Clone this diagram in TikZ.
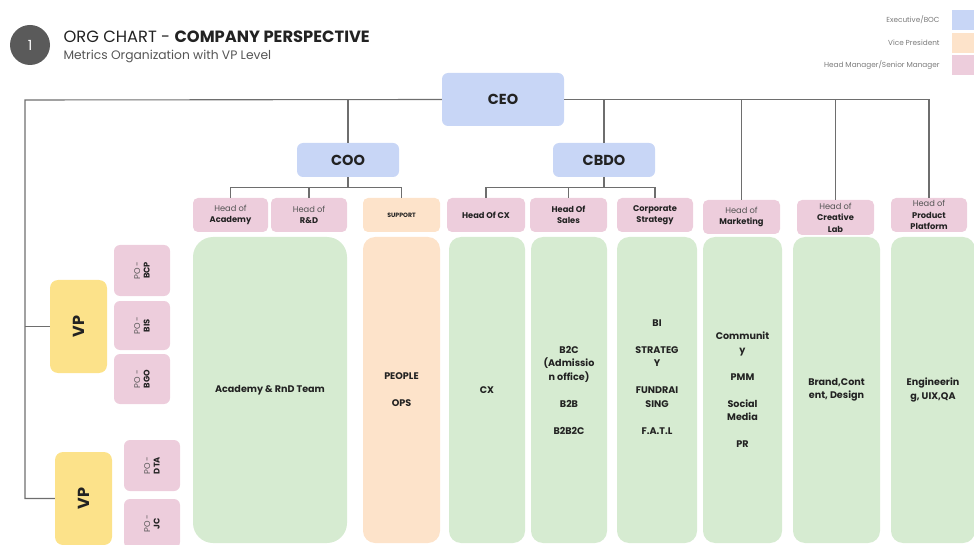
\documentclass[tikz,border=0pt]{standalone}
\usepackage{fontspec}
\setmainfont{Poppins}
\usetikzlibrary{positioning}
\definecolor{execblue}{HTML}{C8D6F6}
\definecolor{headpink}{HTML}{EDCDDC}
\definecolor{vpyellow}{HTML}{FCE28A}
\definecolor{supporange}{HTML}{FDE3CA}
\definecolor{teamgreen}{HTML}{D6EBD1}
\definecolor{linegray}{HTML}{6E6E6E}
\definecolor{circlegray}{HTML}{5A5A5A}
\definecolor{textdark}{HTML}{222222}
\definecolor{textsoft}{HTML}{555555}
\definecolor{legendgray}{HTML}{7A7A7A}
\tikzset{
	conn/.style={draw=linegray, line width=1.1pt},
	execbox/.style={fill=execblue, rounded corners=6pt, text=textdark, font=\bfseries\fontsize{14.5}{16}\selectfont},
	headbox/.style={fill=headpink, rounded corners=5pt, inner sep=1pt, minimum height=34, align=center, text=textsoft, font=\fontsize{8.3}{11.5}\selectfont},
	teambox/.style={fill=teamgreen, rounded corners=12pt, minimum height=306, align=center, text=textdark, font=\bfseries\fontsize{9.6}{13.5}\selectfont},
	teamtext/.style={align=center, text=textdark, font=\bfseries\fontsize{9.6}{13.5}\selectfont},
	vpbox/.style={fill=vpyellow, rounded corners=8pt, rotate=90, minimum width=93, minimum height=57, text=textdark, font=\bfseries\fontsize{16}{18}\selectfont},
	pobox/.style={fill=headpink, rounded corners=6pt, rotate=90, minimum height=56, align=center, text=textsoft, font=\fontsize{8.3}{9.5}\selectfont},
	legbox/.style={minimum width=22, minimum height=20, inner sep=0},
	legtext/.style={inner sep=0, text=legendgray, font=\fontsize{7.3}{8}\selectfont}
}
\begin{document}
\begin{tikzpicture}[x=1pt,y=-1pt]
	\useasboundingbox (0,0) rectangle (974,545);
	% heading
	\node[circle, fill=circlegray, minimum size=40, text=white, font=\fontsize{14}{14}\selectfont] (num) at (30,45) {1};
	\node[anchor=west, text=textdark, font=\fontsize{16.3}{18}\selectfont] (title) at (60,37) {ORG CHART - \textbf{COMPANY PERSPECTIVE}};
	\node[anchor=west, text=textsoft, font=\fontsize{12.3}{14}\selectfont] (subtitle) at (60,56) {Metrics Organization with VP Level};
	% legend
	\node[legbox, fill=execblue] (legexec) at (963,20) {};
	\node[legbox, fill=supporange] (legvp) at (963,43) {};
	\node[legbox, fill=headpink] (leghead) at (963,65) {};
	\node[legtext, left=12pt of legexec] (legexectxt) {Executive/BOC};
	\node[legtext, left=12pt of legvp] (legvptxt) {Vice President};
	\node[legtext, left=12pt of leghead] (legheadtxt) {Head Manager/Senior Manager};
	% executives
	\node[execbox, minimum width=122, minimum height=53] (ceo) at (503,99.5) {CEO};
	\node[execbox, minimum width=102, minimum height=34] (coo) at (348,160) {COO};
	\node[execbox, minimum width=102, minimum height=34] (cbdo) at (604,160) {CBDO};
	% heads
	\node[headbox, minimum width=75] (acad) at (230.5,215) {Head of\\\textbf{\color{textdark}Academy}};
	\node[headbox, minimum width=76] (rnd) at (309,215) {Head of\\\textbf{\color{textdark}R\&D}};
	\node[headbox, fill=supporange, minimum width=77, text=textdark, font=\bfseries\fontsize{6.2}{7}\selectfont] (sup) at (401.5,215) {SUPPORT};
	\node[headbox, minimum width=78, text=textdark, font=\bfseries\fontsize{8.3}{11.5}\selectfont] (hcx) at (486,215) {Head Of CX};
	\node[headbox, minimum width=77, text=textdark, font=\bfseries\fontsize{8.3}{11.5}\selectfont] (sales) at (568.5,215) {Head Of\\Sales};
	\node[headbox, minimum width=76, text=textdark, font=\bfseries\fontsize{8.3}{11.5}\selectfont] (corp) at (655,215) {Corporate\\Strategy};
	\node[headbox, minimum width=77] (mkt) at (741.5,217) {Head of\\\textbf{\color{textdark}Marketing}};
	\node[headbox, minimum width=77, minimum height=35] (lab) at (835.5,217.5) {Head of\\\textbf{\color{textdark}Creative}\\\textbf{\color{textdark}Lab}};
	\node[headbox, minimum width=76] (pp) at (929,215) {Head of\\\textbf{\color{textdark}Product}\\\textbf{\color{textdark}Platform}};
	% teams
	\node[teambox, rounded corners=20pt, minimum width=154] (team) at (270,390) {Academy \& RnD Team};
	\node[teambox, fill=supporange, minimum width=77] (ops) at (401.5,390) {PEOPLE\\[13.5pt]OPS};
	\node[teambox, minimum width=76] (cx) at (487,390) {CX};
	\node[teambox, minimum width=76] (b2c) at (569,390) {B2C\\(Admissio\\n office)\\[13.5pt]B2B\\[13.5pt]B2B2C};
	\node[teambox, minimum width=80] (bi) at (657,390) {};
	\node[teamtext] (bitxt) at ([yshift=13]bi.center) {BI\\[13.5pt]STRATEG\\Y\\[13.5pt]FUNDRAI\\SING\\[13.5pt]F.A.T.L};
	\node[teambox, minimum width=79] (comm) at (742.5,390) {Communit\\y\\[13.5pt]PMM\\[13.5pt]Social\\Media\\[13.5pt]PR};
	\node[teambox, minimum width=87] (brand) at (836.5,390) {Brand,Cont\\ent, Design};
	\node[teambox, minimum width=84] (eng) at (933,390) {Engineerin\\g, UIX,QA};
	% vice presidents
	\node[vpbox] (vp1) at (78.5,326.5) {VP};
	\node[vpbox] (vp2) at (83.5,498.5) {VP};
	\node[pobox, minimum width=51] (pobcp) at (142,270.5) {PO -\\\textbf{\color{textdark}BCP}};
	\node[pobox, minimum width=49] (pobis) at (142,325.5) {PO -\\\textbf{\color{textdark}BIS}};
	\node[pobox, minimum width=50] (pobgo) at (142,379) {PO -\\\textbf{\color{textdark}BGO}};
	\node[pobox, minimum width=51] (podta) at (152,465.5) {PO -\\\textbf{\color{textdark}DTA}};
	\node[pobox, minimum width=49] (pojc) at (152,523.5) {PO -\\\textbf{\color{textdark}JC}};
	% connectors
	\coordinate (lefttop) at (25,100);
	\draw[conn] (ceo.west) -- (lefttop) -- (lefttop |- vp2.north) -- (vp2.north);
	\draw[conn] (lefttop |- vp1.north) -- (vp1.north);
	\draw[conn] (ceo.east) -| (pp.north);
	\draw[conn] (coo.north) -- (coo.north |- ceo.west);
	\draw[conn] (cbdo.north) -- (cbdo.north |- ceo.east);
	\draw[conn] (mkt.north) -- (mkt.north |- ceo.east);
	\draw[conn] (lab.north) -- (lab.north |- ceo.east);
	\coordinate (coojoin) at ([yshift=-10]coo.south);
	\coordinate (cbdojoin) at ([yshift=-10]cbdo.south);
	\draw[conn] (coo.south) -- (coojoin);
	\draw[conn] (acad.north) |- (coojoin) -| (sup.north);
	\draw[conn] (rnd.north) -- (rnd.north |- coojoin);
	\draw[conn] (cbdo.south) -- (cbdojoin);
	\draw[conn] (hcx.north) |- (cbdojoin) -| (corp.north);
	\draw[conn] (sales.north) -- (sales.north |- cbdojoin);
\end{tikzpicture}
\end{document}
